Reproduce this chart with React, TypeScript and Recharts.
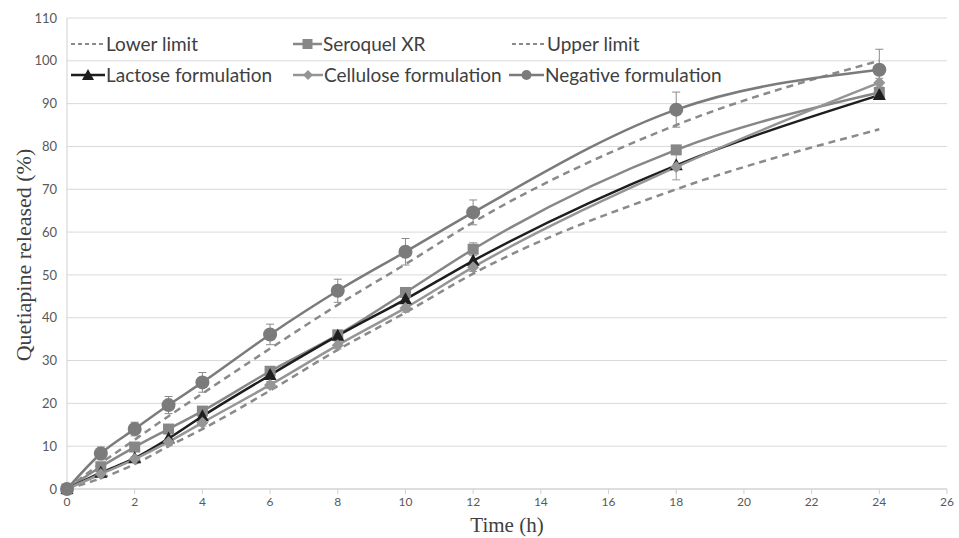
import React from 'react';
import { LineChart, Line, XAxis, YAxis, CartesianGrid, ErrorBar, Legend } from 'recharts';

const times = [0, 1, 2, 3, 4, 6, 8, 10, 12, 18, 24];
const lowerLimit = [0, 2.5, 5.8, 10, 14, 23, 32.5, 41.2, 50.3, 70, 84];
const upperLimit = [0, 6, 11.5, 17, 22.3, 32.8, 43, 52.5, 62.3, 85, 100];
const seroquel = [0, 5.2, 9.8, 14, 18.2, 27.5, 36, 45.9, 56, 79.2, 92.6];
const lactose = [0, 3.8, 7.2, 11.8, 17, 26.6, 35.8, 44.3, 53.3, 75.6, 92];
const cellulose = [0, 3.5, 7, 11, 15.5, 24.3, 33.6, 42.3, 51.8, 75.2, 94.9];
const negative = [0, 8.3, 14, 19.6, 24.9, 36.1, 46.3, 55.4, 64.6, 88.6, 97.9];
const negativeErr = [0, 1.5, 1.6, 2, 2.3, 2.4, 2.7, 3.1, 2.9, 4.1, 4.8];
const seroquelErr = [0, 0.6, 0.6, 0.7, 0.8, 0.8, 0.9, 1, 1.5, 1, 0.8];
const celluloseErr = [0, 0.5, 0.6, 0.7, 0.8, 0.8, 0.9, 1, 1, 3, 1];

const xTicks = [0, 2, 4, 6, 8, 10, 12, 14, 16, 18, 20, 22, 24, 26];
const yTicks = [0, 10, 20, 30, 40, 50, 60, 70, 80, 90, 100, 110];

const data = times.map((t, i) => ({
  t,
  lower: lowerLimit[i],
  upper: upperLimit[i],
  seroquel: seroquel[i],
  lactose: lactose[i],
  cellulose: cellulose[i],
  negative: negative[i],
  negErr: negativeErr[i],
  serErr: seroquelErr[i],
  celErr: celluloseErr[i],
}));

const C_NEG = '#7b7b7b';
const C_SER = '#878787';
const C_LAC = '#1e1e1e';
const C_CEL = '#959595';
const C_LIM = '#8a8a8a';
const FONT = 'Lato, "Open Sans", sans-serif';
const SERIF = '"Liberation Serif", "Times New Roman", serif';

const squareDot = (p: any) =>
  p.cx == null ? <g key={`sq-${p.index}`} /> : (
    <rect key={`sq-${p.index}`} x={p.cx - 5.5} y={p.cy - 5.5} width={11} height={11} fill={C_SER} />
  );
const triDot = (p: any) =>
  p.cx == null ? <g key={`tr-${p.index}`} /> : (
    <polygon key={`tr-${p.index}`} points={`${p.cx},${p.cy - 7} ${p.cx + 6.5},${p.cy + 5} ${p.cx - 6.5},${p.cy + 5}`} fill={C_LAC} />
  );
const diaDot = (p: any) =>
  p.cx == null ? <g key={`di-${p.index}`} /> : (
    <polygon key={`di-${p.index}`} points={`${p.cx},${p.cy - 6} ${p.cx + 6},${p.cy} ${p.cx},${p.cy + 6} ${p.cx - 6},${p.cy}`} fill={C_CEL} />
  );
const circDot = (p: any) =>
  p.cx == null ? <g key={`ci-${p.index}`} /> : (
    <circle key={`ci-${p.index}`} cx={p.cx} cy={p.cy} r={7} fill={C_NEG} />
  );

const legendItems = [
  { label: 'Lower limit', kind: 'dash', color: C_LIM, x: 71, y: 44, textX: 106 },
  { label: 'Seroquel XR', kind: 'square', color: C_SER, x: 293, y: 44, textX: 323 },
  { label: 'Upper limit', kind: 'dash', color: C_LIM, x: 512, y: 44, textX: 547 },
  { label: 'Lactose formulation', kind: 'tri', color: C_LAC, x: 71, y: 75, textX: 106 },
  { label: 'Cellulose formulation', kind: 'dia', color: C_CEL, x: 293, y: 75, textX: 324 },
  { label: 'Negative formulation', kind: 'circ', color: C_NEG, x: 509, y: 75, textX: 545 },
];

const Icon = ({ kind, color, w }: any) => {
  const cy = 8;
  const mid = w / 2;
  return (
    <svg width={w} height={16} style={{ display: 'block' }}>
      {kind === 'dash' ? (
        <line x1={0} y1={cy} x2={w} y2={cy} stroke={color} strokeWidth={2} strokeDasharray="4 3" />
      ) : (
        <line x1={0} y1={cy} x2={w} y2={cy} stroke={color} strokeWidth={2.5} />
      )}
      {kind === 'square' && <rect x={mid - 5} y={cy - 5} width={10} height={10} fill={color} />}
      {kind === 'tri' && <polygon points={`${mid},${cy - 6} ${mid + 6},${cy + 5} ${mid - 6},${cy + 5}`} fill={color} />}
      {kind === 'dia' && <polygon points={`${mid},${cy - 5} ${mid + 5},${cy} ${mid},${cy + 5} ${mid - 5},${cy}`} fill={color} />}
      {kind === 'circ' && <circle cx={mid} cy={cy} r={5} fill={color} />}
    </svg>
  );
};

const renderLegend = () => (
  <div style={{ position: 'relative', width: 959, height: 100 }}>
    {legendItems.map((it) => (
      <div key={it.label}>
        <div style={{ position: 'absolute', left: it.x, top: it.y - 8 }}>
          <Icon kind={it.kind} color={it.color} w={it.textX - it.x - 1} />
        </div>
        <div
          style={{
            position: 'absolute',
            left: it.textX,
            top: it.y - 13,
            fontFamily: FONT,
            fontSize: 19,
            lineHeight: '25px',
            color: '#404040',
            whiteSpace: 'nowrap',
          }}
        >
          {it.label}
        </div>
      </div>
    ))}
  </div>
);

export default function App() {
  return (
    <div style={{ position: 'absolute', left: 0, top: 0, width: 959, height: 538, background: '#fff' }}>
      <LineChart width={959} height={538} data={data} margin={{ top: 18, right: 12, bottom: 0, left: 0 }}>
        <CartesianGrid vertical={false} stroke="#d9d9d9" strokeWidth={1} />
        <XAxis
          dataKey="t"
          type="number"
          domain={[0, 26]}
          ticks={xTicks}
          height={49}
          stroke="#d0d0d0"
          tickSize={5}
          tickMargin={3}
          tick={{ fill: '#595959', fontSize: 12, fontFamily: FONT }}
          label={{
            content: () => (
              <text x={507} y={532} textAnchor="middle" fontFamily={SERIF} fontSize={21} fill="#404040">
                Time (h)
              </text>
            ),
          }}
        />
        <YAxis
          type="number"
          domain={[0, 110]}
          ticks={yTicks}
          width={67}
          stroke="#d0d0d0"
          tickLine={false}
          tickSize={0}
          tickMargin={10}
          tick={{ fill: '#595959', fontSize: 13, fontFamily: FONT }}
          label={{
            content: () => (
              <text
                x={0}
                y={0}
                transform="translate(31,255) rotate(-90)"
                textAnchor="middle"
                fontFamily={SERIF}
                fontSize={22}
                fill="#404040"
              >
                Quetiapine released (%)
              </text>
            ),
          }}
        />
        <Legend verticalAlign="middle" align="center" layout="horizontal" content={renderLegend} wrapperStyle={{ left: 0, top: 0, width: 959, height: 100 }} />
        <Line type="monotone" dataKey="lower" stroke={C_LIM} strokeWidth={2.5} strokeDasharray="7 5" dot={false} isAnimationActive={false} />
        <Line type="monotone" dataKey="seroquel" stroke={C_SER} strokeWidth={2.5} dot={squareDot} isAnimationActive={false}>
          <ErrorBar dataKey="serErr" direction="y" width={4} stroke="#999" strokeWidth={1} />
        </Line>
        <Line type="monotone" dataKey="upper" stroke={C_LIM} strokeWidth={2.5} strokeDasharray="7 5" dot={false} isAnimationActive={false} />
        <Line type="monotone" dataKey="lactose" stroke={C_LAC} strokeWidth={2.5} dot={triDot} isAnimationActive={false} />
        <Line type="monotone" dataKey="cellulose" stroke={C_CEL} strokeWidth={2.5} dot={diaDot} isAnimationActive={false}>
          <ErrorBar dataKey="celErr" direction="y" width={4} stroke="#999" strokeWidth={1} />
        </Line>
        <Line type="monotone" dataKey="negative" stroke={C_NEG} strokeWidth={2.5} dot={circDot} isAnimationActive={false}>
          <ErrorBar dataKey="negErr" direction="y" width={4} stroke="#8a8a8a" strokeWidth={1} />
        </Line>
      </LineChart>
    </div>
  );
}
